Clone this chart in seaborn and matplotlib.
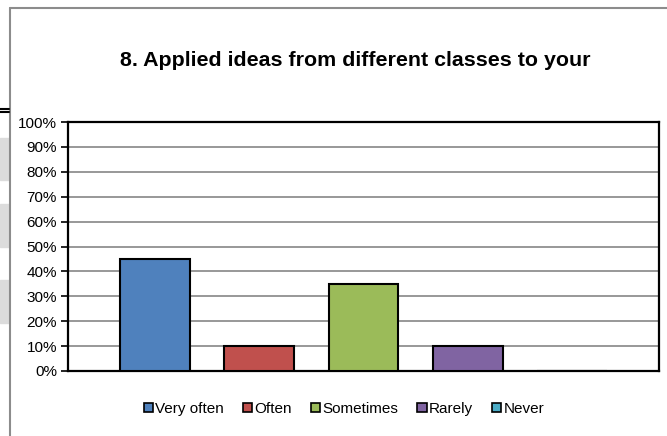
import matplotlib
matplotlib.use("Agg")
import matplotlib.pyplot as plt
from matplotlib.patches import Patch, Rectangle
from matplotlib.lines import Line2D
import seaborn as sns
import pandas as pd

# data
categories = ["Very often", "Often", "Sometimes", "Rarely", "Never"]
percent = [45, 10, 35, 10, 0]
colors = ["#4F81BD", "#C0504D", "#9BBB59", "#8064A2", "#4BACC6"]
title = "8. Applied ideas from different classes to your"

df = pd.DataFrame({"answer": categories, "pct": percent})

sns.set_style("white")
plt.rcParams["font.family"] = ["Liberation Sans", "DejaVu Sans"]
plt.rcParams["text.color"] = "black"
plt.rcParams["ytick.color"] = "black"
plt.rcParams["ytick.labelcolor"] = "black"

W, H = 667, 436
fig = plt.figure(figsize=(W / 100, H / 100), dpi=100)

# plot area in pixel coords
left, right, top, bottom = 68, 659, 122, 371
ax = fig.add_axes([left / W, 1 - bottom / H, (right - left) / W, (bottom - top) / H])

sns.barplot(data=df, x="answer", y="pct", hue="answer", order=categories,
            hue_order=categories, palette=colors, width=0.67, saturation=1,
            edgecolor="black", linewidth=1.5, legend=False, ax=ax, zorder=3)

ax.set_ylim(0, 100)
ax.set_xlim(-0.833, 4.833)
ax.set_yticks(range(0, 101, 10))
ax.set_yticklabels([f"{v}%" for v in range(0, 101, 10)], fontsize=11)
ax.set_xticks([])
ax.set_xlabel("")
ax.set_ylabel("")
ax.yaxis.grid(True, color="#868686", linewidth=1.2, zorder=0)
ax.set_axisbelow(True)
ax.tick_params(axis="y", direction="out", length=5, width=1.2, left=True, pad=3,
               colors="black")
for s in ax.spines.values():
    s.set_color("black")
    s.set_linewidth(1.6)
    s.set_visible(True)

fig.text(355 / W, 1 - 61 / H, title, ha="center", va="center",
         fontsize=15.4, fontweight="bold", color="black")

handles = [Patch(facecolor=c, edgecolor="black", linewidth=1.2) for c in colors]
fig.legend(handles, categories, loc="center", bbox_to_anchor=(344 / W, 1 - 409 / H),
           ncol=5, frameon=False, fontsize=11, handlelength=0.6, handleheight=0.6,
           handletextpad=0.15, columnspacing=1.25)

# chart frame and page bits around it
fig.add_artist(Line2D([10 / W, 10 / W], [0, 1 - 8 / H], transform=fig.transFigure,
                      color="#8c8c8c", linewidth=1.5))
fig.add_artist(Line2D([10 / W, 1], [1 - 8 / H, 1 - 8 / H], transform=fig.transFigure,
                      color="#8c8c8c", linewidth=1.5))
for y0, y1 in [(138, 180), (204, 247), (280, 323)]:
    fig.add_artist(Rectangle((0, 1 - y1 / H), 9 / W, (y1 - y0) / H,
                             transform=fig.transFigure, color="#dcdcdc", zorder=0))
for y in (108.5, 112.5):
    fig.add_artist(Line2D([0, 9 / W], [1 - y / H, 1 - y / H], transform=fig.transFigure,
                          color="black", linewidth=1.5))

fig.savefig("out.png", dpi=100)
